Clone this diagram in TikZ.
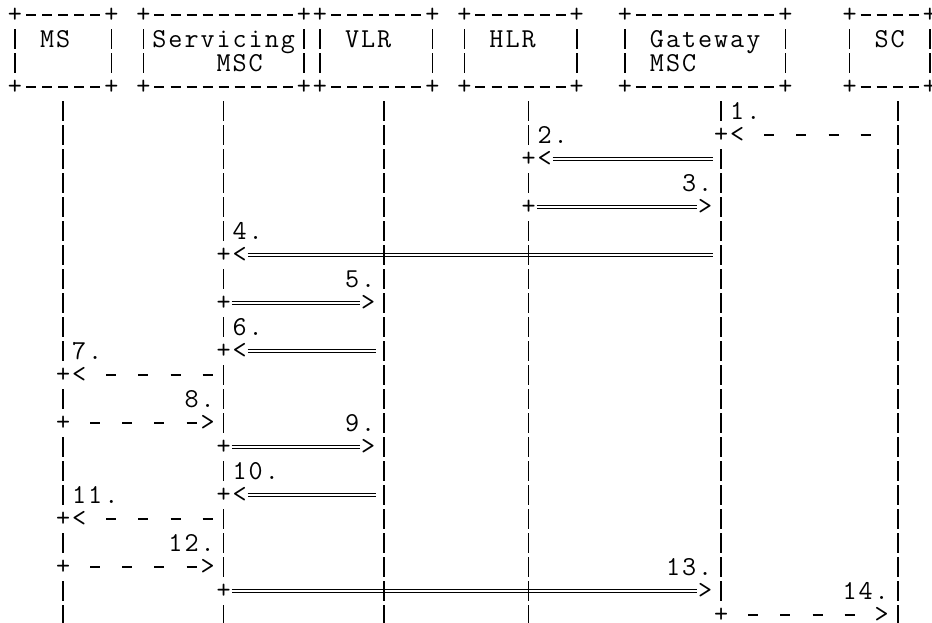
\documentclass[tikz,border=0pt]{standalone}
\usepackage{fontspec}
\newcommand\gridtext[1]{\gridtextstep#1\relax}
\def\gridtextstep#1{\ifx#1\relax\else\makebox[12.0375pt]{#1}\expandafter\gridtextstep\fi}
\newcommand\asciifont{\ttfamily\fontsize{20.5pt}{24pt}\selectfont\addfontfeature{FakeBold=1.2}}
\newcommand\asciibox[3]{%
  \draw[boxh] ({#1+0.6885},0) -- ({#2-0.6885},0);
  \draw[boxh] ({#1+0.6885},3) -- ({#2-0.6885},3);
  \draw[boxv] (#1,0.5833) -- (#1,2.4167);
  \draw[boxv] (#2,0.5833) -- (#2,2.4167);
  \node[sym] (#3-tl) at (#1,0) {+};
  \node[sym] (#3-tr) at (#2,0) {+};
  \node[sym] (#3-bl) at (#1,3) {+};
  \node[sym] (#3-br) at (#2,3) {+};
}
\begin{document}
\begin{tikzpicture}[x=12.0375pt,y=-18pt,
  lbl/.style={font=\asciifont, inner sep=0pt, anchor=base},
  sym/.style={font=\asciifont, inner sep=0pt, anchor=center},
  plusmark/.style={sym, fill=white, minimum width=10.5pt, minimum height=16.5pt},
  lifeline/.style={line width=1.2pt, dash pattern=on 15pt off 3pt},
  boxv/.style={line width=1.2pt, dash pattern=on 15pt off 3pt},
  boxh/.style={line width=1.2pt, dash pattern=on 7.5pt off 4.5375pt},
  dblmsg/.style={double, line width=0.9pt, double distance=1.8pt},
  dshmsg/.style={line width=1.2pt, dash pattern=on 7.5pt off 16.575pt}]
\fill[white] (-0.9346,-0.625) rectangle (57.134,25.333);
\path[use as bounding box] (-0.9346,-0.625) rectangle (57.134,25.333);

% boxes
\asciibox{0}{6}{bms}
\asciibox{8}{18}{bsmsc}
\asciibox{19}{26}{bvlr}
\asciibox{28}{35}{bhlr}
\asciibox{38}{48}{bgmsc}
\asciibox{52}{57}{bsc}
\node[lbl] (ms) at (2.5,1.354) {\gridtext{MS}};
\node[lbl] (smsc) at (13,1.354) {\gridtext{Servicing}};
\node[lbl] (smsc2) at (14,2.354) {\gridtext{MSC}};
\node[lbl] (vlr) at (22,1.354) {\gridtext{VLR}};
\node[lbl] (hlr) at (31,1.354) {\gridtext{HLR}};
\node[lbl] (gmsc) at (43,1.354) {\gridtext{Gateway}};
\node[lbl] (gmsc2) at (41,2.354) {\gridtext{MSC}};
\node[lbl] (sc) at (54.5,1.354) {\gridtext{SC}};

% double-line messages (drawn under the lifelines)
\coordinate (m2s) at (33.5,6);  \coordinate (m2e) at (43.5,6);
\coordinate (m3s) at (32.5,8);  \coordinate (m3e) at (42.5,8);
\coordinate (m4s) at (14.5,10); \coordinate (m4e) at (43.5,10);
\coordinate (m5s) at (13.5,12); \coordinate (m5e) at (21.5,12);
\coordinate (m6s) at (14.5,14); \coordinate (m6e) at (22.5,14);
\coordinate (m9s) at (13.5,18); \coordinate (m9e) at (21.5,18);
\coordinate (m10s) at (14.5,20); \coordinate (m10e) at (22.5,20);
\coordinate (m13s) at (13.5,24); \coordinate (m13e) at (42.5,24);
\foreach \m in {2,3,4,5,6,9,10,13} \draw[dblmsg] (m\m s) -- (m\m e);

% lifelines
\foreach \n/\c in {ms/3,smsc/13,vlr/23,hlr/32,gmsc/44,sc/55}{
  \coordinate (\n-top) at (\c,3.5833);
  \coordinate (\n-end) at (\c,25.333);
  \draw[lifeline] (\n-top) -- (\n-end);
}

% message start marks
\foreach \i/\c/\r in {1/44/5,2/32/6,3/32/8,4/13/10,5/13/12,6/13/14,7/3/15,8/3/17,9/13/18,10/13/20,11/3/21,12/3/23,13/13/24,14/44/25}
  \node[plusmark] (p\i) at (\c,\r) {+};

% arrow heads
\foreach \i/\c/\r in {1/45/5,2/33/6,4/14/10,6/14/14,7/4/15,10/14/20,11/4/21}
  \node[sym] (h\i) at (\c,\r) {<};
\foreach \i/\c/\r in {3/43/8,5/22/12,8/12/17,9/22/18,12/12/23,13/43/24,14/54/25}
  \node[sym] (h\i) at (\c,\r) {>};

% dashed messages
\coordinate (m1s) at (46.6885,5);  \coordinate (m1e) at (53.3115,5);
\coordinate (m7s) at (5.6885,15);  \coordinate (m7e) at (12.3115,15);
\coordinate (m8s) at (4.6885,17);  \coordinate (m8e) at (11.3115,17);
\coordinate (m11s) at (5.6885,21); \coordinate (m11e) at (12.3115,21);
\coordinate (m12s) at (4.6885,23); \coordinate (m12e) at (11.3115,23);
\coordinate (m14s) at (45.6885,25); \coordinate (m14e) at (52.3115,25);
\foreach \m in {1,7,8,11,12,14} \draw[dshmsg] (m\m s) -- (m\m e);

% step numbers
\node[lbl] (n1) at (45.5,4.354) {\gridtext{1.}};
\node[lbl] (n2) at (33.5,5.354) {\gridtext{2.}};
\node[lbl] (n3) at (42.5,7.354) {\gridtext{3.}};
\node[lbl] (n4) at (14.5,9.354) {\gridtext{4.}};
\node[lbl] (n5) at (21.5,11.354) {\gridtext{5.}};
\node[lbl] (n6) at (14.5,13.354) {\gridtext{6.}};
\node[lbl] (n7) at (4.5,14.354) {\gridtext{7.}};
\node[lbl] (n8) at (11.5,16.354) {\gridtext{8.}};
\node[lbl] (n9) at (21.5,17.354) {\gridtext{9.}};
\node[lbl] (n10) at (15,19.354) {\gridtext{10.}};
\node[lbl] (n11) at (5,20.354) {\gridtext{11.}};
\node[lbl] (n12) at (11,22.354) {\gridtext{12.}};
\node[lbl] (n13) at (42,23.354) {\gridtext{13.}};
\node[lbl] (n14) at (53,24.354) {\gridtext{14.}};
\end{tikzpicture}
\end{document}
